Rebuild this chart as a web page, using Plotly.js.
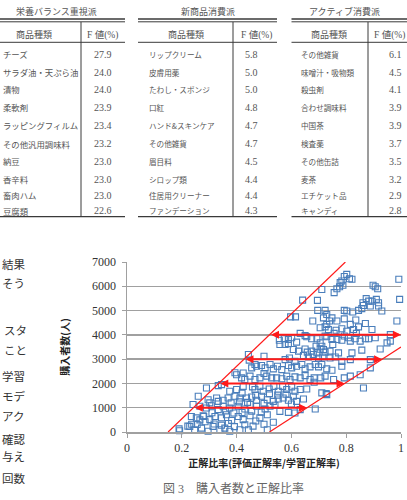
<!DOCTYPE html>
<html><head><meta charset="utf-8">
<script src="https://cdn.plot.ly/plotly-3.0.1.min.js"></script>
<style>html,body{margin:0;padding:0;background:#fff;}#chart{width:407px;height:500px;}</style>
</head><body><div id="chart"></div>
<script>
// ---------------- DATA ----------------
const ratio = [
0.802,0.793,0.812,0.821,0.784,0.778,0.898,0.992,
0.766,0.776,0.788,0.711,0.756,0.915,0.906,
0.641,0.695,0.873,0.882,0.861,0.894,0.918,0.995,0.910,
0.863,0.888,0.918,0.930,0.845,0.857,0.793,0.824,0.696,0.723,0.729,0.802,
0.597,0.615,0.678,0.717,0.748,0.739,0.766,0.815,0.870,0.985,0.729,0.723,0.793,0.835,
0.632,0.650,0.735,0.763,0.784,0.802,0.827,0.837,0.894,0.845,0.705,0.756,0.723,0.793,0.808,0.961,0.870,
0.556,0.574,0.589,0.558,0.577,0.589,0.601,0.619,0.656,0.674,0.693,0.705,0.729,0.748,0.766,0.784,0.815,0.833,0.851,0.882,0.906,0.949,0.961,0.690,0.711,0.717,0.751,
0.607,0.626,0.650,0.658,0.674,0.693,0.705,0.723,0.741,0.772,0.821,0.857,0.924,
0.443,0.500,0.593,0.644,0.662,0.680,0.699,0.715,0.741,0.760,0.784,0.815,0.888,0.577,0.613,0.446,
0.400,0.424,0.455,0.473,0.491,0.504,0.522,0.534,0.549,0.565,0.589,0.601,0.619,0.638,0.650,0.668,0.687,0.699,0.711,0.729,0.748,0.784,0.888,
0.418,0.449,0.467,0.485,0.500,0.510,0.528,0.546,0.565,0.583,0.595,0.613,0.632,0.650,0.668,0.683,0.707,0.723,0.754,0.793,0.815,0.851,
0.290,0.345,0.375,0.400,0.424,0.458,0.467,0.485,0.497,0.519,0.536,0.552,0.568,0.583,0.601,0.613,0.632,0.656,0.711,0.729,0.863,0.683,
0.260,0.296,0.327,0.351,0.369,0.394,0.412,0.436,0.455,0.473,0.491,0.512,0.534,0.552,0.570,0.589,0.607,0.619,0.644,0.727,
0.241,0.266,0.290,0.308,0.333,0.351,0.375,0.406,0.430,0.449,0.473,0.504,0.522,0.558,0.589,0.613,0.632,0.687,
0.235,0.253,0.278,0.302,0.321,0.345,0.363,0.382,0.406,0.424,0.449,0.485,0.512,0.534,
0.229,0.247,0.272,0.296,0.314,0.339,0.357,0.375,0.412,0.443,0.512,
0.190,0.192,0.222,0.236,0.256,0.266,0.280,0.302,0.333,0.394,0.430,0.420,0.467,0.333,
0.285,0.318,0.345,0.370,0.392,0.430,0.460,0.470,0.390,0.360,0.310,0.420,0.455,0.490,0.500,0.380,0.440,0.470,0.520,0.550,0.580,0.600,0.540,0.500,0.410
];
const buyers = [
6490,6400,6310,6290,6220,6150,6040,6290,
5900,5980,6040,5870,5740,5900,5980,
5430,5420,5490,5390,5320,5390,5320,5460,5460,
5210,5190,5190,4980,5010,5080,5010,4940,5010,5010,4840,4980,
4740,4740,4570,4700,4700,4570,4570,4430,4470,4570,4430,4330,4660,4610,
4060,3970,4220,4190,4250,4150,4220,4060,4220,4330,4290,4060,3950,3950,3880,4010,3840,
3780,3840,3810,3600,3600,3640,3880,3700,3920,3840,3840,3670,3920,3810,3810,3780,3740,3840,3740,3840,3880,3670,3740,3530,3530,3400,3600,
3400,3330,3420,3290,3330,3260,3410,3290,3330,3260,3260,3370,3420,
3190,3120,3050,3150,3090,3190,3050,3090,3050,3090,2910,2980,2980,2980,2910,2960,
2360,2430,2640,2710,2740,2640,2780,2600,2710,2570,2740,2640,2710,2780,2600,2680,2780,2680,2780,2600,2540,2710,2640,
2230,2300,2160,2230,2410,2300,2230,2230,2190,2300,2160,2270,2230,2320,2160,2230,2230,2300,2160,2230,2300,2360,
1810,1950,1680,1750,1880,1860,1750,1880,1680,1770,1880,1680,1880,1750,1860,1680,1750,1770,1610,1540,1810,2050,
1470,1330,1400,1310,1400,1470,1400,1400,1440,1310,1470,1330,1260,1360,1400,1310,1470,1260,1360,1580,
1130,1060,990,1080,920,1060,990,1060,950,1130,1060,950,1060,850,810,780,920,950,
640,580,670,510,640,580,710,480,640,510,670,580,710,400,
230,90,160,30,230,90,160,30,90,90,90,
130,50,240,320,310,500,640,1200,1260,2440,2160,1600,2780,1910,
420,330,280,350,220,300,240,450,780,870,790,800,860,820,320,1200,1220,1520,1580,1520,1560,1150,1100,1180,1240
];
const upperBoundX = [0.15, 0.797];
const upperBoundY = [0, 7000];
const lowerBoundX = [0.52, 1.0];
const lowerBoundY = [0, 3500];
const arrowY = [1000, 2000, 3000, 4000];
const arrowFrom = [0.242, 0.335, 0.427, 0.52];
const arrowTo = [0.657, 0.794, 0.931, 1.0];
const xTickVals = [0, 0.2, 0.4, 0.6, 0.8, 1];
const xTickText = ['0', '0.2', '0.4', '0.6', '0.8', '1'];
const yTickVals = [0, 1000, 2000, 3000, 4000, 5000, 6000, 7000];
const xTitle = '正解比率(評価正解率/学習正解率)';
const yTitle = '購入者数(人)';
const caption = '図 3　購入者数と正解比率';

const tableTitles = ['栄養バランス重視派', '新商品消費派', 'アクティブ消費派'];
const headerName = '商品種類';
const headerF = 'F 値(%)';
const nutritionItems = ['チーズ','サラダ油・天ぷら油','漬物','柔軟剤','ラッピングフィルム','その他汎用調味料','納豆','香辛料','畜肉ハム','豆腐類'];
const nutritionF = ['27.9','24.0','24.0','23.9','23.4','23.2','23.0','23.0','23.0','22.6'];
const newProductItems = ['リップクリーム','皮膚用薬','たわし・スポンジ','口紅','ハンド&スキンケア','その他雑貨','眉目料','シロップ類','住居用クリーナー','ファンデーション'];
const newProductF = ['5.8','5.0','5.0','4.8','4.7','4.7','4.5','4.4','4.4','4.3'];
const activeItems = ['その他雑貨','味噌汁・吸物類','殺虫剤','合わせ調味料','中国茶','検査薬','その他缶詰','麦茶','エチケット品','キャンディ'];
const activeF = ['6.1','4.5','4.1','3.9','3.9','3.7','3.5','3.2','2.9','2.8'];
const sideText = ['結果','そう','スタ','こと','学習','モデ','アク','確認','与え','回数'];

// ---------------- LAYOUT GEOMETRY (pixels) ----------------
const W = 407, H = 500, ML = 127, MR = 6, MT = 262, MB = 68;
const PW = W - ML - MR, PH = H - MT - MB;
const px = v => (v - ML) / PW;
const py = v => (H - MB - v) / PH;

const JP = 'Noto Sans CJK JP';
const SERIF = 'Liberation Serif, Noto Sans CJK JP';

const tables = [
  {title: tableTitles[0], items: nutritionItems, vals: nutritionF, left: 0, right: 125, sep: 81, titleC: 56, nameC: 34, fC: 102, textX: 1, valC: 102.5, itemSize: 8.4},
  {title: tableTitles[1], items: newProductItems, vals: newProductF, left: 138, right: 277, sep: 233, titleC: 207.5, nameC: 186, fC: 256, textX: 146.5, valC: 251.5, itemSize: 7.6},
  {title: tableTitles[2], items: activeItems, vals: activeF, left: 291.5, right: 407, sep: 368, titleC: 344, nameC: 329, fC: 389, textX: 299, valC: 395, itemSize: 7.6}
];
const rowPix = [54.3, 72, 89.3, 107.3, 125.3, 143.5, 161.3, 179.3, 195.3, 210.5];
const sidePix = [264, 282.5, 330, 350, 375.5, 395.5, 415.5, 439, 456, 478];
const sideLeft = [0, 0, 2, 2, 0, 0, 0, 0, 0, 0];

const annotations = [];
const shapes = [];
const lineCol = '#3a3a3a';
function hline(x0, x1, y, w) {
  shapes.push({type: 'line', xref: 'paper', yref: 'paper', x0: px(x0), x1: px(x1), y0: py(y), y1: py(y), line: {color: lineCol, width: w}});
}
function txt(text, x, y, opts) {
  annotations.push(Object.assign({text: text, x: px(x), y: py(y), xref: 'paper', yref: 'paper', showarrow: false,
    xanchor: 'center', yanchor: 'middle', font: {family: JP, size: 9, color: '#555'}}, opts || {}));
}
tables.forEach(t => {
  txt(t.title, t.titleC, 11);
  hline(t.left, t.right, 19, 1.3);
  hline(t.left, t.right, 21.8, 1);
  hline(t.left, t.right, 42.3, 1);
  hline(t.left, t.right, 216.7, 1.3);
  shapes.push({type: 'line', xref: 'paper', yref: 'paper', x0: px(t.sep), x1: px(t.sep), y0: py(22), y1: py(216.7), line: {color: lineCol, width: 1}});
  txt(headerName, t.nameC, 35);
  txt(headerF, t.fC, 35, {font: {family: SERIF, size: 9.5, color: '#555'}});
  t.items.forEach((it, i) => {
    txt(it, t.textX, rowPix[i], {xanchor: 'left', font: {family: JP, size: t.itemSize, color: '#555'}});
    txt(t.vals[i], t.valC, rowPix[i], {font: {family: SERIF, size: 10, color: '#555'}});
  });
});
sideText.forEach((s, i) => {
  txt(s, sideLeft[i], sidePix[i], {xanchor: 'left', font: {family: JP, size: 11.5, color: '#333'}});
});
txt(caption, 233, 488, {font: {family: SERIF, size: 12, color: '#666'}});

arrowY.forEach((yv, i) => {
  annotations.push({x: arrowTo[i], y: yv, ax: arrowFrom[i], ay: yv, xref: 'x', yref: 'y', axref: 'x', ayref: 'y',
    text: '', showarrow: true, arrowside: 'end+start', arrowhead: 2, startarrowhead: 2,
    arrowsize: 0.8, startarrowsize: 0.8, arrowwidth: 2, arrowcolor: '#ff1a1a', standoff: 0, startstandoff: 0});
});

const traces = [
  {type: 'scatter', mode: 'markers', x: ratio, y: buyers, cliponaxis: false, hoverinfo: 'skip',
   marker: {symbol: 'square-open', size: 6, color: '#4a7ebb', line: {width: 1.1, color: '#4a7ebb'}}},
  {type: 'scatter', mode: 'lines', x: upperBoundX, y: upperBoundY, line: {color: '#ff1a1a', width: 1.2}, hoverinfo: 'skip'},
  {type: 'scatter', mode: 'lines', x: lowerBoundX, y: lowerBoundY, line: {color: '#ff1a1a', width: 1.2}, hoverinfo: 'skip'}
];

const gridCol = '#a0a0a0';
const layout = {
  width: W, height: H,
  margin: {l: ML, r: MR, t: MT, b: MB, pad: 0},
  paper_bgcolor: '#fff', plot_bgcolor: '#fff',
  showlegend: false,
  xaxis: {range: [0, 1], tickvals: xTickVals, ticktext: xTickText, showgrid: false, zeroline: false,
    showline: true, linecolor: gridCol, linewidth: 1.5, ticks: 'outside', ticklen: 4, tickcolor: gridCol,
    tickfont: {family: 'Liberation Serif', size: 12, color: '#333'},
    title: {text: '<b>' + xTitle + '</b>', font: {family: JP, size: 10, color: '#222'}, standoff: 6}},
  yaxis: {range: [0, 7000], tickvals: yTickVals, showgrid: true, gridcolor: gridCol, gridwidth: 1.5, zeroline: false,
    showline: true, linecolor: gridCol, linewidth: 1.5, ticks: 'outside', ticklen: 4, tickcolor: gridCol,
    ticklabelstandoff: 3,
    tickfont: {family: 'Liberation Serif', size: 12, color: '#333'},
    title: {text: '<b>' + yTitle + '</b>', font: {family: JP, size: 10, color: '#222'}, standoff: 20}},
  annotations: annotations,
  shapes: shapes
};
Plotly.newPlot('chart', traces, layout, {displayModeBar: false, staticPlot: true});
</script>
</body></html>
